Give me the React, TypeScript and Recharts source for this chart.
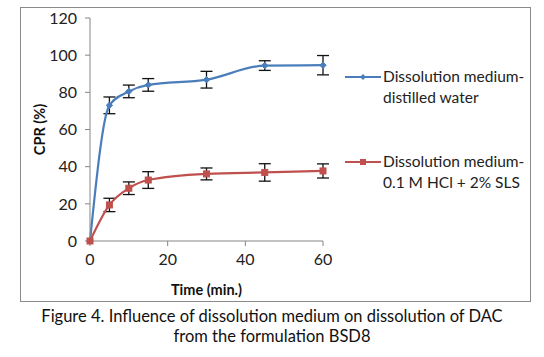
import * as React from 'react';
import { LineChart, Line, XAxis, YAxis, ErrorBar } from 'recharts';

const time = [0, 5, 10, 15, 30, 45, 60];
const waterCpr = [0, 73, 80.5, 84, 86.8, 94.4, 94.6];
const waterErr = [0, 4.5, 3.4, 3.4, 4.5, 2.6, 5.2];
const hclCpr = [0, 19.4, 28.4, 32.8, 36.1, 36.9, 37.7];
const hclErr = [0, 3.6, 3.4, 4.5, 3.2, 4.7, 3.8];
const xTicks = [0, 20, 40, 60];
const yTicks = [0, 20, 40, 60, 80, 100, 120];

const BLUE = '#4a7ebb';
const RED = '#c0504d';
const FONT = 'Lato, "Open Sans", sans-serif';

const data = time.map((t, i) => ({
  t,
  water: waterCpr[i],
  waterErr: waterErr[i],
  hcl: hclCpr[i],
  hclErr: hclErr[i],
}));

const legendItems = [
  { color: BLUE, shape: 'diamond', lines: ['Dissolution medium-', 'distilled water'] },
  { color: RED, shape: 'square', lines: ['Dissolution medium-', '0.1 M HCl + 2% SLS'] },
];

function Diamond(props: any) {
  const { cx, cy } = props;
  if (cx == null || cy == null) return null;
  const r = 3.2;
  return (
    <path
      key={`d-${cx}`}
      d={`M${cx},${cy - r}L${cx + r},${cy}L${cx},${cy + r}L${cx - r},${cy}Z`}
      fill={BLUE}
      stroke={BLUE}
    />
  );
}

function Square(props: any) {
  const { cx, cy } = props;
  if (cx == null || cy == null) return null;
  return <rect key={`s-${cx}`} x={cx - 3} y={cy - 3} width={6} height={6} fill={RED} stroke={RED} />;
}

function LegendBox() {
  return (
    <div style={{ fontFamily: FONT, fontSize: 15.5, color: '#222', lineHeight: '21px' }}>
      {legendItems.map((item, i) => (
        <div key={i} style={{ display: 'flex', marginBottom: i === 0 ? 43 : 0 }}>
          <svg width={38} height={21} style={{ flex: 'none' }}>
            <line x1={0} y1={11} x2={36} y2={11} stroke={item.color} strokeWidth={2} />
            {item.shape === 'diamond' ? (
              <path d="M18,8L21,11L18,14L15,11Z" fill={item.color} />
            ) : (
              <rect x={15} y={8} width={6} height={6} fill={item.color} />
            )}
          </svg>
          <div>
            {item.lines.map((l) => (
              <div key={l}>{l}</div>
            ))}
          </div>
        </div>
      ))}
    </div>
  );
}

export default function App() {
  return (
    <div style={{ position: 'absolute', left: 0, top: 0, width: 544, height: 357, background: '#fff' }}>
      <div
        style={{
          position: 'absolute',
          left: 20,
          top: 7,
          width: 509,
          height: 293,
          border: '1.5px solid #8a8a8a',
        }}
      />
      <div style={{ position: 'absolute', left: 0, top: 0 }}>
        <LineChart width={544} height={300} data={data} margin={{ top: 18, right: 221, bottom: 0, left: 0 }}>
          <XAxis
            dataKey="t"
            type="number"
            domain={[0, 60]}
            ticks={xTicks}
            height={59}
            stroke="#868686"
            tickSize={5}
            tickMargin={8}
            tick={{ fill: '#222', fontSize: 16, fontFamily: FONT }}
            label={{
              value: 'Time (min.)',
              position: 'insideBottom',
              offset: 5,
              style: { fontWeight: 700, fontSize: 14.5, fill: '#111', fontFamily: FONT },
            }}
          />
          <YAxis
            domain={[0, 120]}
            ticks={yTicks}
            width={90}
            stroke="#868686"
            tickSize={5}
            tickMargin={8}
            tick={{ fill: '#222', fontSize: 16, fontFamily: FONT }}
            label={{
              value: 'CPR (%)',
              angle: -90,
              position: 'insideLeft',
              offset: 40,
              style: { fontWeight: 700, fontSize: 14.5, fill: '#111', fontFamily: FONT, textAnchor: 'middle' },
            }}
          />
          <Line
            type="monotone"
            dataKey="water"
            stroke={BLUE}
            strokeWidth={2.2}
            dot={Diamond}
            activeDot={false}
            isAnimationActive={false}
          >
            <ErrorBar dataKey="waterErr" direction="y" width={6} stroke="#111" strokeWidth={1.3} />
          </Line>
          <Line
            type="monotone"
            dataKey="hcl"
            stroke={RED}
            strokeWidth={2.2}
            dot={Square}
            activeDot={false}
            isAnimationActive={false}
          >
            <ErrorBar dataKey="hclErr" direction="y" width={6} stroke="#111" strokeWidth={1.3} />
          </Line>
        </LineChart>
      </div>
      <div style={{ position: 'absolute', left: 345, top: 66 }}>
        <LegendBox />
      </div>
      <div
        style={{
          position: 'absolute',
          left: 0,
          top: 306,
          width: 544,
          textAlign: 'center',
          fontFamily: FONT,
          fontSize: 16.5,
          lineHeight: '20px',
          color: '#111',
        }}
      >
        <div>Figure 4. Influence of dissolution medium on dissolution of DAC</div>
        <div>from the formulation BSD8</div>
      </div>
    </div>
  );
}
